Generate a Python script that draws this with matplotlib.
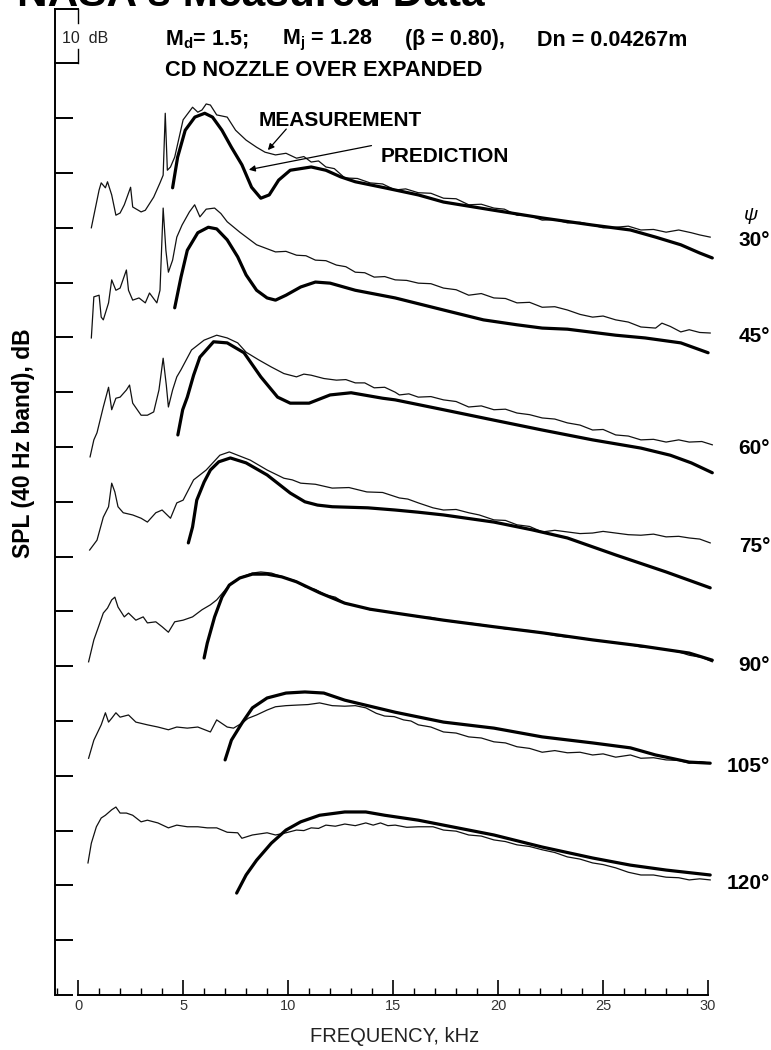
import matplotlib.pyplot as plt
from matplotlib.ticker import MultipleLocator

plt.rcParams["font.family"] = ["Liberation Sans", "DejaVu Sans"]
plt.rcParams["mathtext.fontset"] = "custom"
plt.rcParams["mathtext.rm"] = "Liberation Sans:bold"
plt.rcParams["mathtext.it"] = "Liberation Sans:bold"
plt.rcParams["mathtext.bf"] = "Liberation Sans:bold"

# =========================
# DATA: frequency (kHz), SPL on the stacked axis (dB)
# =========================
angles = [30, 45, 60, 75, 90, 105, 120]

meas_30 = [(0.63, 140.0), (1.0, 146.9), (1.1, 148.2), (1.3, 147.3), (1.4, 148.4), (1.6, 146.0),
           (1.8, 142.3), (2.0, 142.7), (2.2, 144.2), (2.5, 147.4), (2.6, 143.8), (3.0, 142.9),
           (3.2, 143.2), (3.6, 145.6), (3.9, 148.2), (4.05, 149.6), (4.15, 160.9), (4.25, 150.5),
           (4.4, 151.1), (4.6, 152.9), (5.0, 159.7), (5.45, 162.0), (5.7, 161.1), (5.9, 161.5),
           (6.1, 162.6), (6.3, 162.4), (6.6, 160.6), (7.1, 160.2), (7.5, 157.8), (8.0, 156.0),
           (8.5, 154.7), (8.9, 153.8), (9.4, 153.3), (9.9, 153.6), (10.4, 152.7), (10.75, 153.0),
           (11.1, 152.0), (11.45, 152.2), (11.8, 151.1), (12.2, 150.8), (12.7, 149.1), (13.3, 149.0),
           (13.9, 148.2), (14.5, 148.0), (15.1, 146.9), (15.6, 147.1), (16.2, 146.4), (16.8, 146.3),
           (17.4, 145.4), (18.0, 145.3), (18.6, 144.2), (19.2, 144.3), (19.8, 143.6), (20.3, 143.4),
           (20.9, 142.3), (21.5, 142.2), (22.1, 141.4), (22.7, 141.5), (23.3, 140.9), (23.9, 141.0),
           (24.5, 140.5), (25.0, 140.0), (25.6, 140.1), (26.2, 140.3), (26.8, 139.6), (27.4, 139.7),
           (28.0, 139.2), (28.6, 139.6), (29.2, 139.1), (29.6, 138.7), (30.1, 138.3)]
pred_30 = [(4.5, 147.3), (4.74, 152.9), (5.1, 157.8), (5.56, 160.2), (6.03, 160.9), (6.4, 160.2),
           (6.85, 157.8), (7.3, 154.7), (7.8, 151.5), (8.26, 147.4), (8.7, 145.4), (9.1, 146.0),
           (9.55, 148.7), (10.1, 150.5), (11.1, 151.1), (11.8, 150.5), (12.5, 149.3), (13.2, 148.4),
           (14.6, 147.3), (16.2, 146.0), (17.4, 144.7), (19.8, 143.2), (22.1, 141.8), (24.5, 140.5),
           (26.3, 139.6), (27.5, 138.3), (28.7, 136.9), (29.6, 135.4), (30.2, 134.5)]

meas_45 = [(0.63, 119.9), (0.75, 127.4), (1.0, 127.7), (1.1, 123.7), (1.2, 123.2), (1.45, 126.3),
           (1.6, 130.5), (1.8, 128.6), (2.0, 129.0), (2.3, 132.3), (2.4, 128.6), (2.6, 126.8),
           (2.9, 127.2), (3.2, 126.3), (3.4, 128.1), (3.75, 126.3), (3.9, 128.6), (4.05, 143.6),
           (4.18, 135.9), (4.3, 131.9), (4.5, 134.1), (4.7, 138.3), (4.95, 140.5), (5.3, 142.9),
           (5.55, 144.2), (5.8, 142.0), (6.1, 143.4), (6.5, 143.6), (6.8, 142.6), (7.1, 141.1),
           (7.7, 139.2), (8.5, 136.9), (9.4, 135.6), (9.9, 135.7), (10.4, 135.0), (10.85, 134.9),
           (11.3, 134.1), (11.8, 134.0), (12.3, 133.2), (12.75, 132.9), (13.2, 131.9), (13.65, 131.8),
           (14.1, 131.0), (14.6, 131.1), (15.1, 130.5), (15.65, 130.4), (16.2, 129.9), (16.8, 129.8),
           (17.4, 129.0), (18.0, 128.7), (18.6, 127.7), (19.2, 128.0), (19.8, 127.2), (20.35, 127.1),
           (20.9, 126.3), (21.5, 126.4), (22.1, 125.5), (22.7, 125.6), (23.3, 125.0), (23.9, 124.2),
           (24.5, 123.7), (25.0, 123.9), (25.6, 123.2), (26.2, 122.8), (26.8, 121.9), (27.5, 121.7),
           (27.8, 122.6), (28.2, 122.0), (28.7, 121.0), (29.1, 121.4), (29.6, 120.9), (30.1, 120.8)]
pred_45 = [(4.6, 125.4), (4.9, 131.0), (5.2, 135.9), (5.7, 139.1), (6.2, 140.1), (6.6, 139.8),
           (7.1, 137.8), (7.6, 134.7), (8.0, 131.4), (8.5, 128.6), (9.0, 127.2), (9.4, 126.8),
           (9.9, 127.7), (10.6, 129.2), (11.3, 130.1), (12.0, 129.9), (13.2, 128.6), (15.1, 127.2),
           (17.4, 125.0), (19.3, 123.2), (20.9, 122.3), (22.1, 121.7), (23.3, 121.5), (25.6, 120.4),
           (27.0, 119.9), (28.7, 119.0), (30.0, 117.2)]

meas_60 = [(0.57, 98.2), (0.75, 101.3), (0.9, 102.6), (1.2, 107.3), (1.45, 110.9), (1.6, 106.8),
           (1.8, 108.9), (2.0, 109.1), (2.3, 110.4), (2.45, 111.3), (2.6, 108.0), (3.0, 105.8),
           (3.3, 105.8), (3.6, 106.4), (3.85, 110.4), (4.05, 116.2), (4.2, 111.3), (4.3, 107.3),
           (4.5, 110.4), (4.7, 112.8), (4.9, 114.1), (5.4, 117.7), (6.0, 119.5), (6.6, 120.4),
           (7.1, 119.9), (7.6, 119.0), (8.0, 117.3), (8.6, 115.9), (9.2, 114.6), (9.8, 113.4),
           (10.4, 112.8), (10.75, 113.3), (11.1, 113.1), (11.7, 112.5), (12.3, 112.2), (12.75, 112.3),
           (13.2, 111.7), (13.65, 111.7), (14.1, 110.8), (14.6, 110.9), (15.1, 110.0), (15.3, 109.5),
           (15.75, 109.7), (16.2, 109.1), (16.8, 109.2), (17.4, 108.6), (18.0, 108.3), (18.6, 107.3),
           (19.2, 107.5), (19.8, 106.8), (20.35, 106.9), (20.9, 106.2), (21.5, 105.9), (22.1, 105.3),
           (22.7, 105.1), (23.3, 104.4), (23.9, 104.0), (24.5, 103.1), (25.0, 103.2), (25.6, 102.2),
           (26.2, 102.0), (26.8, 101.3), (27.4, 101.4), (28.0, 100.9), (28.6, 101.3), (29.1, 100.9),
           (29.7, 101.0), (30.2, 100.4)]
pred_60 = [(4.75, 102.2), (4.98, 106.8), (5.2, 109.1), (5.5, 113.1), (5.8, 116.4), (6.45, 119.2),
           (7.1, 119.0), (7.9, 117.2), (8.7, 112.8), (9.5, 109.1), (10.1, 108.0), (11.0, 108.0),
           (12.0, 109.5), (13.0, 109.9), (14.5, 108.9), (15.1, 108.6), (17.4, 106.8), (19.8, 104.9),
           (22.1, 103.1), (24.5, 101.3), (26.8, 99.8), (28.2, 98.5), (29.2, 97.1), (30.2, 95.3)]

meas_75 = [(0.55, 81.2), (0.9, 83.0), (1.2, 87.2), (1.45, 89.1), (1.6, 93.4), (1.75, 91.8),
           (1.9, 89.1), (2.15, 88.0), (2.6, 87.6), (3.0, 87.0), (3.3, 86.3), (3.7, 88.0),
           (4.0, 88.5), (4.4, 87.0), (4.7, 89.8), (5.0, 90.3), (5.5, 94.0), (6.1, 95.8),
           (6.75, 98.5), (7.2, 99.1), (7.6, 98.5), (8.2, 97.6), (9.0, 95.8), (9.8, 94.3),
           (10.2, 94.0), (10.6, 93.4), (11.3, 93.2), (12.1, 92.5), (12.9, 92.6), (13.75, 91.8),
           (14.5, 91.7), (15.3, 90.7), (15.7, 90.5), (16.2, 89.8), (16.9, 88.9), (17.4, 88.5),
           (18.0, 88.6), (18.6, 88.0), (19.1, 87.6), (19.8, 86.7), (20.35, 86.6), (20.9, 85.8),
           (21.5, 85.5), (22.1, 84.5), (22.7, 84.8), (23.3, 84.5), (23.9, 84.2), (24.5, 84.3),
           (25.0, 84.6), (25.6, 84.3), (26.2, 84.0), (26.8, 83.9), (27.4, 84.1), (28.0, 83.6),
           (28.6, 83.7), (29.1, 83.4), (29.6, 83.2), (30.1, 82.5)]
pred_75 = [(5.25, 82.5), (5.45, 85.4), (5.65, 90.3), (6.0, 93.6), (6.3, 95.8), (6.7, 97.3),
           (7.25, 98.0), (8.0, 97.1), (9.0, 94.9), (10.1, 91.6), (10.8, 90.0), (11.4, 89.4),
           (12.1, 89.1), (13.8, 88.9), (15.1, 88.5), (16.2, 88.1), (17.4, 87.6), (19.8, 86.3),
           (21.6, 84.9), (23.3, 83.4), (25.6, 80.3), (28.0, 77.2), (30.1, 74.3)]

meas_90 = [(0.5, 60.8), (0.75, 64.8), (1.0, 67.5), (1.2, 69.7), (1.4, 70.6), (1.6, 72.1),
           (1.75, 72.6), (1.9, 70.8), (2.2, 69.0), (2.4, 69.7), (2.75, 68.4), (3.1, 69.0),
           (3.3, 67.9), (3.7, 68.1), (4.0, 67.2), (4.3, 66.2), (4.6, 68.1), (5.0, 68.4),
           (5.45, 69.0), (5.9, 70.3), (6.3, 71.2), (6.6, 72.1), (7.0, 73.9), (7.3, 75.2),
           (7.8, 76.3), (8.3, 77.0), (8.7, 77.2), (9.2, 77.0), (9.9, 76.1), (10.35, 75.6),
           (10.8, 74.5), (11.3, 74.0), (11.8, 73.0), (12.25, 72.6), (12.7, 71.5), (13.3, 71.0),
           (13.9, 70.3), (14.5, 70.1), (15.1, 69.7), (15.65, 69.4), (16.2, 69.0), (16.8, 68.9),
           (17.4, 68.4), (18.0, 68.0), (18.6, 67.9), (19.2, 67.6), (19.8, 67.2), (20.35, 66.8),
           (20.9, 66.6), (21.5, 66.5), (22.1, 66.1), (22.7, 65.6), (23.3, 65.3), (23.9, 65.2),
           (24.5, 64.8), (25.0, 64.6), (25.6, 64.2), (26.2, 64.0), (26.8, 63.5), (27.4, 63.4),
           (28.0, 63.0), (28.6, 62.6), (29.1, 62.0), (29.7, 61.6), (30.2, 60.8)]
pred_90 = [(6.0, 61.5), (6.15, 64.2), (6.5, 69.0), (6.85, 72.6), (7.2, 74.8), (7.7, 76.1),
           (8.3, 76.8), (9.0, 76.8), (9.7, 76.3), (10.4, 75.4), (11.5, 73.4), (12.7, 71.5),
           (13.9, 70.4), (15.1, 69.7), (17.4, 68.4), (19.8, 67.2), (22.1, 66.1), (24.5, 64.8),
           (26.8, 63.7), (29.1, 62.4), (30.2, 61.1)]

meas_105 = [(0.5, 43.2), (0.75, 46.5), (1.1, 49.3), (1.3, 51.5), (1.45, 49.8), (1.6, 50.5),
            (1.8, 51.5), (2.0, 50.7), (2.4, 51.1), (2.75, 49.8), (3.3, 49.3), (3.8, 48.9),
            (4.3, 48.4), (4.7, 48.9), (5.2, 48.7), (5.7, 48.9), (6.3, 48.0), (6.6, 50.2),
            (7.1, 48.9), (7.4, 48.7), (7.8, 49.6), (8.1, 50.5), (8.5, 51.1), (9.0, 52.0),
            (9.4, 52.6), (9.9, 52.8), (10.4, 52.9), (10.95, 53.0), (11.5, 53.3), (12.1, 52.8),
            (12.7, 52.7), (13.2, 52.8), (13.7, 52.4), (14.2, 51.4), (14.6, 50.9), (15.05, 50.8),
            (15.5, 50.2), (15.85, 50.0), (16.2, 49.3), (16.8, 48.9), (17.4, 48.0), (18.0, 47.8),
            (18.6, 47.1), (19.2, 46.9), (19.8, 46.2), (20.35, 46.0), (20.9, 45.3), (21.5, 45.0),
            (22.1, 44.3), (22.7, 44.6), (23.3, 44.2), (23.9, 44.3), (24.5, 43.8), (25.0, 44.0),
            (25.6, 43.4), (26.3, 43.8), (26.8, 43.2), (27.4, 43.3), (28.0, 42.9), (28.6, 42.8),
            (29.1, 42.3), (29.6, 42.6), (30.1, 42.3)]
pred_105 = [(7.0, 42.9), (7.3, 46.5), (7.8, 49.6), (8.3, 52.4), (9.0, 54.2), (9.9, 55.1),
            (10.8, 55.3), (11.7, 55.1), (12.7, 53.8), (15.1, 51.6), (17.4, 49.8), (19.8, 48.7),
            (22.1, 47.1), (24.5, 46.0), (26.3, 45.1), (27.5, 43.8), (28.0, 43.4), (29.1, 42.5),
            (30.1, 42.3)]

meas_120 = [(0.47, 24.1), (0.63, 27.7), (0.87, 30.7), (1.1, 32.3), (1.3, 32.8), (1.6, 33.8),
            (1.8, 34.3), (2.0, 33.2), (2.3, 33.2), (2.6, 32.8), (3.0, 31.6), (3.3, 31.9),
            (3.8, 31.4), (4.3, 30.5), (4.7, 31.0), (5.2, 30.7), (5.7, 30.7), (6.15, 30.5),
            (6.6, 30.5), (7.1, 29.7), (7.6, 29.6), (7.8, 28.6), (8.3, 29.2), (9.0, 29.6),
            (9.4, 29.2), (9.9, 29.6), (10.4, 30.1), (10.75, 30.0), (11.1, 30.5), (11.45, 30.4),
            (11.8, 31.0), (12.25, 30.8), (12.7, 31.2), (13.2, 30.9), (13.7, 31.4), (14.05, 31.0),
            (14.4, 31.4), (14.75, 30.9), (15.1, 31.0), (15.65, 30.6), (16.2, 30.7), (16.9, 30.7),
            (17.4, 30.1), (18.0, 29.9), (18.6, 29.2), (19.2, 29.0), (19.8, 28.3), (20.35, 28.0),
            (20.9, 27.4), (21.5, 27.1), (22.1, 26.5), (22.7, 26.0), (23.3, 25.2), (23.9, 24.8),
            (24.5, 24.1), (25.0, 23.8), (25.6, 23.2), (26.2, 22.4), (26.8, 21.9), (27.4, 21.9),
            (28.0, 21.5), (28.6, 21.4), (29.1, 21.0), (29.6, 21.2), (30.1, 21.0)]
pred_120 = [(7.55, 18.6), (8.0, 21.9), (8.5, 24.6), (9.2, 27.7), (9.9, 30.1), (10.6, 31.6),
            (11.5, 32.8), (12.7, 33.4), (13.7, 33.4), (14.6, 32.8), (16.2, 31.9), (17.4, 31.0),
            (19.8, 29.2), (22.1, 27.0), (24.5, 25.0), (26.3, 23.7), (28.0, 22.8), (30.1, 21.9)]

curves = {
    30: (meas_30, pred_30),
    45: (meas_45, pred_45),
    60: (meas_60, pred_60),
    75: (meas_75, pred_75),
    90: (meas_90, pred_90),
    105: (meas_105, pred_105),
    120: (meas_120, pred_120),
}

freq_ticks = [0, 5, 10, 15, 20, 25, 30]

# condition line, split in pieces (x position in px)
cond_parts = [(165, r"M$_\mathrm{d}$= 1.5;"), (282, r"M$_\mathrm{j}$ = 1.28"),
              (405, "(β = 0.80),"), (537, "Dn = 0.04267m")]

W, H = 771, 1050


def fig_xy(px, py):
    return px / W, 1 - py / H


# =========================
# FIGURE / AXES
# =========================
fig = plt.figure(figsize=(W / 100, H / 100), dpi=100)
ax = fig.add_axes([55 / W, 55 / H, 663.6 / W, 986.4 / H])
ax.set_xlim(-1.1, 30.5)
ax.set_ylim(0, 180)

for side in ["top", "right"]:
    ax.spines[side].set_visible(False)
ax.spines["left"].set_bounds(0, 180)
ax.spines["bottom"].set_bounds(0, 30)
ax.spines["left"].set_linewidth(1.4)
ax.spines["bottom"].set_linewidth(1.4)

ax.set_yticks(range(0, 170, 10))
ax.tick_params(axis="y", direction="in", length=13, width=1.4, labelleft=False)

ax.set_xticks(freq_ticks)
ax.set_xticklabels([str(t) for t in freq_ticks])
ax.xaxis.set_minor_locator(MultipleLocator(1))
ax.tick_params(axis="x", which="major", direction="in", length=10.5, width=1.2,
               pad=3, labelsize=10.5, labelcolor="#333333")
ax.tick_params(axis="x", which="minor", direction="in", length=5, width=1.0)

# 10 dB scale bracket at the top of the axis
ax.plot([-1.1, 0], [180, 180], color="black", lw=1.4, clip_on=False)
ax.plot([-1.1, 0], [170, 170], color="black", lw=1.4, clip_on=False)
ax.plot([0, 0], [180, 177.4], color="black", lw=1.0, clip_on=False)
ax.plot([0, 0], [172.6, 170], color="black", lw=1.0, clip_on=False)
ax.text(-0.75, 174.6, "10  dB", fontsize=11.5, color="#222222", va="center", ha="left")

# =========================
# SPECTRA
# =========================
for ang in angles:
    meas, pred = curves[ang]
    mf, ms = zip(*meas)
    pf, ps = zip(*pred)
    ax.plot(mf, ms, color="#111111", lw=0.9, clip_on=False)
    ax.plot(pf, ps, color="black", lw=2.3, solid_capstyle="round", clip_on=False)
    ax.text(32.95, ms[-1] - 0.6, f"{ang}°", fontsize=15, fontweight="bold",
            ha="right", va="center", clip_on=False)

ax.text(32.05, 142.2, "ψ", fontsize=14, fontstyle="italic", ha="center", va="center",
        clip_on=False)

# labels with leader arrows
ax.text(8.6, 159.6, "MEASUREMENT", fontsize=15, fontweight="bold", ha="left", va="center")
ax.text(14.4, 153.0, "PREDICTION", fontsize=15, fontweight="bold", ha="left", va="center")
ax.annotate("", xy=(8.95, 153.8), xytext=(10.0, 158.4),
            arrowprops=dict(arrowstyle="-|>", lw=0.9, color="black", mutation_scale=9))
ax.annotate("", xy=(8.0, 150.5), xytext=(14.1, 155.1),
            arrowprops=dict(arrowstyle="-|>", lw=0.9, color="black", mutation_scale=9))

# =========================
# TEXT OUTSIDE THE AXES
# =========================
fig.text(*fig_xy(17, 6), "NASA's Measured Data", fontsize=30.5, fontweight="bold",
         ha="left", va="baseline")
for px, part in cond_parts:
    fig.text(*fig_xy(px, 40), part, fontsize=15.5, fontweight="bold", ha="left", va="center")
fig.text(*fig_xy(165, 70), "CD NOZZLE OVER EXPANDED", fontsize=15.7, fontweight="bold",
         ha="left", va="center")
fig.text(*fig_xy(24, 443), "SPL (40 Hz band), dB", fontsize=16.5, fontweight="bold",
         rotation=90, ha="center", va="center")
fig.text(*fig_xy(395, 1037), "FREQUENCY, kHz", fontsize=14.5, color="#222222",
         ha="center", va="center")

fig.savefig("out.png", dpi=100)
